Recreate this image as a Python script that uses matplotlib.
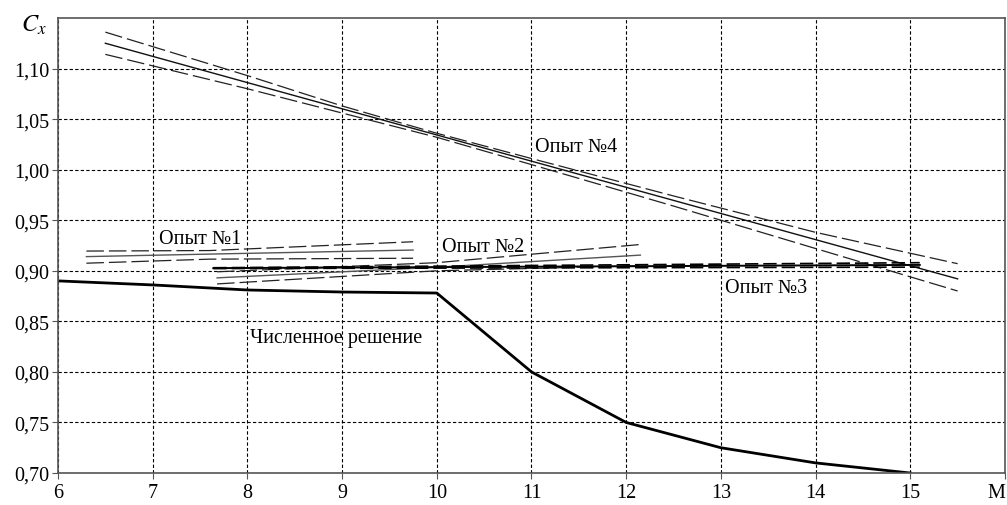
"""Cx(M): numerical solution vs. experiments 1-4 with confidence bands."""
import matplotlib
matplotlib.use("Agg")
import matplotlib.pyplot as plt

plt.rcParams['font.family'] = ['Liberation Serif', 'DejaVu Serif']
plt.rcParams['mathtext.fontset'] = 'stix'

# numerical solution
num_m = [6, 7, 8, 9, 10, 11, 12, 13, 14, 15]
num_cx = [0.890, 0.886, 0.881, 0.879, 0.878, 0.800, 0.750, 0.725, 0.710, 0.700]

# experiment 1
e1_m = [6.3, 7.6, 9.75]
e1_mid = [0.9140, 0.9165, 0.9205]
e1_hi = [0.9195, 0.9200, 0.9287]
e1_lo = [0.9075, 0.9115, 0.9124]

# experiment 2
e2_m = [7.68, 10.0, 12.15]
e2_mid = [0.8930, 0.9035, 0.9155]
e2_hi = [0.8990, 0.9080, 0.9260]
e2_lo = [0.8870, 0.9000, 0.9050]

# experiment 3
e3_m = [7.64, 15.1]
e3_mid = [0.9026, 0.9058]
e3_hi = [0.9030, 0.9080]
e3_lo = [0.9022, 0.9036]

# experiment 4
e4_m = [6.5, 8.0, 9.0, 10.0, 11.0, 12.5, 14.0, 15.5]
e4_mid = [1.125, 1.0861, 1.0602, 1.0343, 1.0084, 0.9696, 0.9308, 0.892]
e4_hi = [1.136, 1.093, 1.063, 1.036, 1.011, 0.974, 0.938, 0.907]
e4_lo = [1.114, 1.080, 1.056, 1.032, 1.005, 0.964, 0.922, 0.880]

x_ticks = [6, 7, 8, 9, 10, 11, 12, 13, 14, 15, 16]
x_labels = ['6', '7', '8', '9', '10', '11', '12', '13', '14', '15', 'M']
y_ticks = [0.70, 0.75, 0.80, 0.85, 0.90, 0.95, 1.00, 1.05, 1.10]
y_labels = ['0,70', '0,75', '0,80', '0,85', '0,90', '0,95', '1,00', '1,05', '1,10']

fig = plt.figure(figsize=(10.07, 5.06), dpi=100)
ax = fig.add_axes([0.0576, 0.0632, 0.9404, 0.8993])

dash = (0, (14, 4))
band_kw = dict(color='#222222', lw=0.9, linestyle=dash)

for m, mid, hi, lo, c in [(e1_m, e1_mid, e1_hi, e1_lo, '#555555'),
                          (e2_m, e2_mid, e2_hi, e2_lo, '#555555'),
                          (e4_m, e4_mid, e4_hi, e4_lo, '#111111')]:
    ax.plot(m, mid, color=c, lw=1.0)
    ax.plot(m, hi, **band_kw)
    ax.plot(m, lo, **band_kw)

ax.plot(e3_m, e3_mid, color='black', lw=1.4)
ax.plot(e3_m, e3_hi, color='black', lw=1.2, linestyle=(0, (8, 3)))
ax.plot(e3_m, e3_lo, color='black', lw=1.2, linestyle=(0, (8, 3)))

ax.plot(num_m, num_cx, color='black', lw=2.0)

fs = 14.5
ax.text(7.07, 0.9318, 'Опыт №1', fontsize=fs, va='center')
ax.text(10.05, 0.9245, 'Опыт №2', fontsize=fs, va='center')
ax.text(13.04, 0.8837, 'Опыт №3', fontsize=fs, va='center')
ax.text(11.04, 1.0232, 'Опыт №4', fontsize=fs, va='center')
ax.text(8.03, 0.834, 'Численное решение', fontsize=fs, va='center')
ax.text(-0.012, 0.985, '$C_x$', transform=ax.transAxes, fontsize=fs + 3,
        ha='right', va='center')

ax.set_xlim(6, 16)
ax.set_ylim(0.70, 1.15)
ax.set_xticks(x_ticks)
ax.set_xticklabels(x_labels, fontsize=fs)
ax.get_xticklabels()[-1].set_horizontalalignment('right')
ax.set_yticks(y_ticks)
ax.set_yticklabels(y_labels, fontsize=fs)
ax.tick_params(direction='out', length=4, color='#555555', pad=2)
ax.tick_params(axis='x', pad=3.5)
ax.grid(True, color='black', lw=0.8, linestyle=(0, (3, 2)))
for s in ax.spines.values():
    s.set_color('#555555')
    s.set_linewidth(1.2)

fig.savefig('out.png', dpi=100)
